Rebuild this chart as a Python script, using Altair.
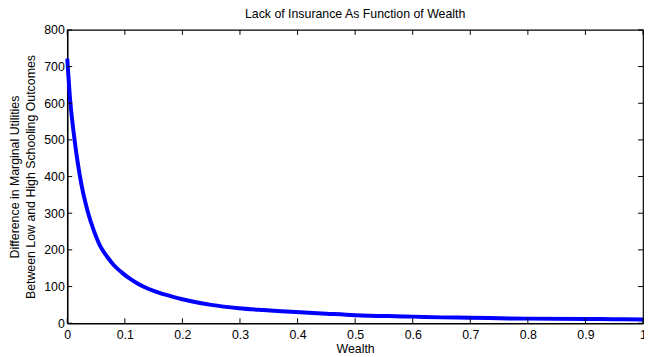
import altair as alt
import pandas as pd

wealth = [0, 0.005, 0.0115, 0.018, 0.025, 0.0355, 0.0463, 0.058, 0.07, 0.081,
          0.095, 0.11, 0.1235, 0.1406, 0.16, 0.175, 0.198, 0.25, 0.298, 0.34,
          0.381, 0.45, 0.5, 0.57, 0.6, 0.65, 0.7, 0.77, 0.8, 0.9, 0.95, 1.0]
diff = [722, 610, 515, 440, 375, 305, 252, 208, 180, 158,
        138, 120, 107, 94, 83, 76, 66, 50, 41, 36,
        32, 26, 22, 19, 18, 16, 15, 13, 12.5, 11.5, 11, 10]

x_ticks = [0, 0.1, 0.2, 0.3, 0.4, 0.5, 0.6, 0.7, 0.8, 0.9, 1.0]
y_ticks = [0, 100, 200, 300, 400, 500, 600, 700, 800]

W, H = 583, 297
FONT = "Liberation Sans"
FS = 12.5

df = pd.DataFrame({"w": wealth, "v": diff})
xt = pd.DataFrame({"w": x_ticks})
yt = pd.DataFrame({"v": y_ticks})

xscale = alt.Scale(domain=[0, 1], nice=False, zero=False)
yscale = alt.Scale(domain=[0, 800], nice=False)

xaxis = alt.Axis(title="Wealth", values=x_ticks, format="~g", tickSize=0,
                 labelPadding=5, titlePadding=2, grid=False, labelOverlap=False)
yaxis = alt.Axis(title=["Difference in Marginal Utilities",
                        "Between Low and High Schooling Outcomes"],
                 values=y_ticks, tickSize=0, labelPadding=3,
                 titlePadding=6, titleLineHeight=16, grid=False, labelOverlap=False)

X = alt.X("w:Q", scale=xscale, axis=xaxis)
Y = alt.Y("v:Q", scale=yscale, axis=yaxis)

line = alt.Chart(df).mark_line(color="#0000FF", strokeWidth=4,
                               interpolate="monotone").encode(x=X, y=Y)

tick_len = 5
bottom_ticks = alt.Chart(xt).mark_rule(color="black", strokeWidth=1).encode(
    x=X, y=alt.value(H), y2=alt.value(H - tick_len))
top_ticks = alt.Chart(xt).mark_rule(color="black", strokeWidth=1).encode(
    x=X, y=alt.value(0), y2=alt.value(tick_len))
left_ticks = alt.Chart(yt).mark_rule(color="black", strokeWidth=1).encode(
    y=Y, x=alt.value(0), x2=alt.value(tick_len))
right_ticks = alt.Chart(yt).mark_rule(color="black", strokeWidth=1).encode(
    y=Y, x=alt.value(W), x2=alt.value(W - tick_len))

chart = alt.layer(line, bottom_ticks, top_ticks, left_ticks, right_ticks).properties(
    width=W, height=H,
    title=alt.TitleParams("Lack of Insurance As Function of Wealth", fontSize=FS,
                          font=FONT, fontWeight="normal", color="black", offset=4),
    autosize=alt.AutoSizeParams(type="none"),
    padding={"left": 60, "top": 20, "right": 1, "bottom": 30},
).configure_view(stroke="black", strokeWidth=1.2).configure_axis(
    labelFont=FONT, titleFont=FONT, labelFontSize=FS, titleFontSize=FS,
    labelColor="black", titleColor="black", titleFontWeight="normal",
    domainColor="black", domainWidth=1.5, labelFlush=False, labelOverlap=False,
)

chart.save("out.html", embed_options={"renderer": "svg", "actions": False})
